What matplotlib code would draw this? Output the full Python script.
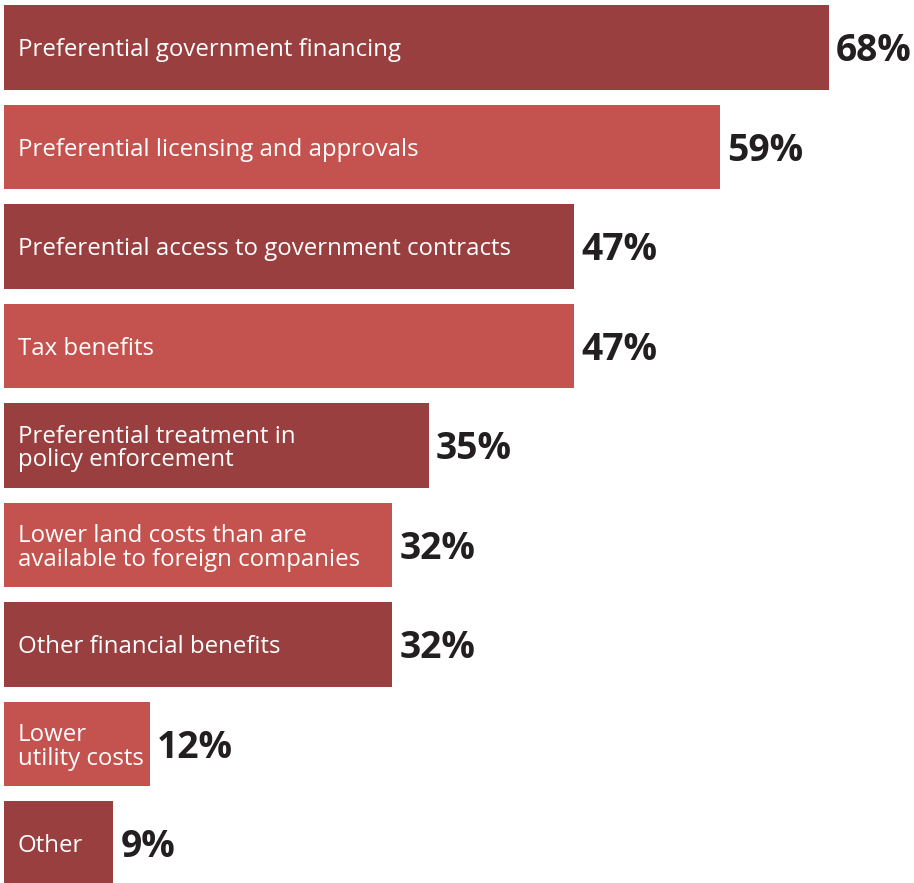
import matplotlib
matplotlib.use("Agg")
import matplotlib.pyplot as plt

# survey answers, top to bottom
categories = [
    "Preferential government financing",
    "Preferential licensing and approvals",
    "Preferential access to government contracts",
    "Tax benefits",
    "Preferential treatment in\npolicy enforcement",
    "Lower land costs than are\navailable to foreign companies",
    "Other financial benefits",
    "Lower\nutility costs",
    "Other",
]
values = [68, 59, 47, 47, 35, 32, 32, 12, 9]
value_labels = ["68%", "59%", "47%", "47%", "35%", "32%", "32%", "12%", "9%"]

dark_red = "#993f40"
light_red = "#c4534f"
text_dark = "#231f20"

plt.rcParams["font.family"] = ["Open Sans", "DejaVu Sans"]

fig = plt.figure(figsize=(9.14, 8.83), dpi=100)
ax = fig.add_axes([0, 0, 1, 1])

ypos = list(range(len(categories)))
colors = [dark_red if i % 2 == 0 else light_red for i in ypos]
ax.barh(ypos, values, height=0.845, color=colors, left=0)

for i, (cat, v, lab) in enumerate(zip(categories, values, value_labels)):
    ax.text(1.15, i + 0.03, cat, color="white", fontsize=17.3, va="center",
            ha="left", linespacing=0.98)
    ax.text(v + 0.6, i + 0.04, lab, color=text_dark, fontsize=26.8,
            fontweight="bold", va="center", ha="left")

ax.set_xlim(-0.33, 75.02)
ax.set_ylim(8.397, -0.477)
ax.axis("off")

fig.savefig("out.png", dpi=100)
